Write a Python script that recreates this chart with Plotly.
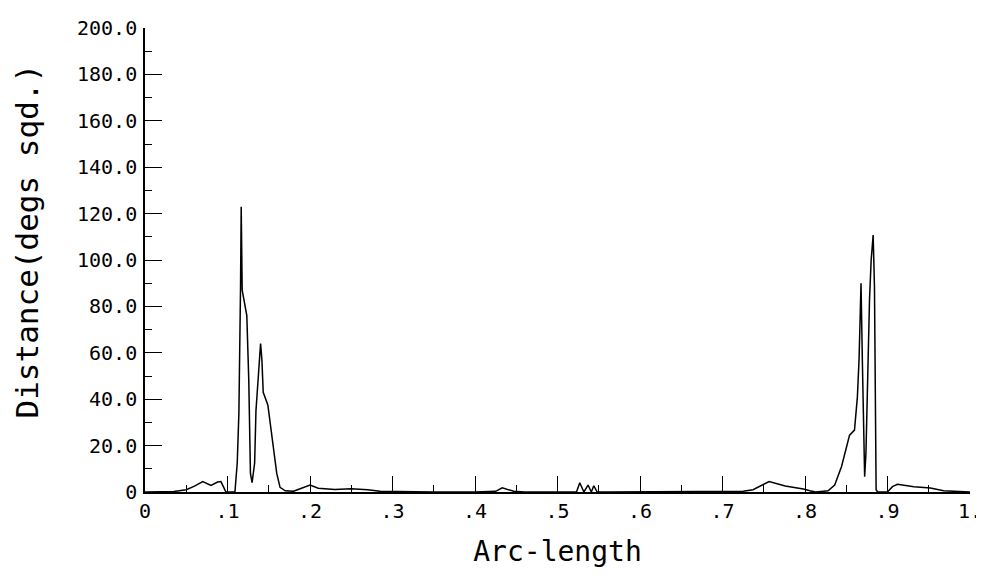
import plotly.graph_objects as go

# Arc-length positions and the squared-degree distance
arc_length = [
    0.0, 0.02, 0.035, 0.05, 0.06, 0.07, 0.08, 0.088, 0.092, 0.095,
    0.098, 0.102, 0.106, 0.109, 0.1118, 0.1138, 0.1158, 0.1166, 0.1178, 0.1206,
    0.1234, 0.1258, 0.1278, 0.1298, 0.1329, 0.1345, 0.1377, 0.1401, 0.1417, 0.1433,
    0.1489, 0.1537, 0.1597, 0.1637, 0.17, 0.18, 0.1916, 0.2, 0.21, 0.23,
    0.25, 0.27, 0.285, 0.30, 0.35, 0.40, 0.425, 0.433, 0.44, 0.447,
    0.46, 0.50, 0.523, 0.527, 0.532, 0.537, 0.541, 0.544, 0.548, 0.56,
    0.60, 0.65, 0.70, 0.725, 0.737, 0.7565, 0.776, 0.798, 0.806, 0.813,
    0.828, 0.836, 0.8443, 0.850, 0.854, 0.860, 0.8635, 0.8655, 0.8667, 0.8679,
    0.8695, 0.871, 0.8723, 0.8739, 0.8763, 0.8782, 0.8802, 0.8826, 0.8842, 0.8854,
    0.8862, 0.888, 0.90, 0.906, 0.912, 0.932, 0.952, 0.968, 0.99, 1.0,
]
distance = [
    0, 0, 0.2, 1.0, 2.5, 4.5, 2.8, 4.3, 4.5, 2.3,
    0, 0, 0, 0, 12.5, 34, 88.5, 123, 87, 82,
    76, 48, 8, 4, 12.5, 35, 51, 64, 57, 43,
    37.5, 25, 8, 2, 0.5, 0.3, 1.7, 3, 1.6, 1.1,
    1.4, 1.0, 0.3, 0.2, 0, 0, 0.3, 1.8, 1.0, 0.3,
    0, 0, 0, 4, 0, 3, 0, 2.7, 0, 0,
    0, 0, 0, 0.3, 1.0, 4.5, 2.6, 1.3, 0.5, 0,
    0.5, 3, 11, 19.5, 24.5, 26.7, 41, 57, 77, 90,
    57, 18, 6.6, 17, 57, 83, 100, 110.8, 88.5, 45,
    1, 0, 0, 2.3, 3.3, 2.3, 1.7, 0.5, 0, 0,
]

x_tickvals = [0, 0.1, 0.2, 0.3, 0.4, 0.5, 0.6, 0.7, 0.8, 0.9, 1.0]
x_ticktext = ["0", ".1", ".2", ".3", ".4", ".5", ".6", ".7", ".8", ".9", "1."]
y_tickvals = [0, 20, 40, 60, 80, 100, 120, 140, 160, 180, 200]
y_ticktext = ["0", "20.0", "40.0", "60.0", "80.0", "100.0", "120.0",
              "140.0", "160.0", "180.0", "200.0"]

MONO = "DejaVu Sans Mono"

fig = go.Figure(
    go.Scatter(
        x=arc_length,
        y=distance,
        mode="lines",
        line={"color": "black", "width": 1.5},
        hovertemplate="Arc-length: %{x:.3f}<br>Distance: %{y:.1f}<extra></extra>",
    )
)

# the page body keeps its 8px margin, so the figure is sized to fit inside it
fig.update_layout(
    width=976,
    height=572,
    margin={"l": 137, "r": 14, "t": 20, "b": 88},
    paper_bgcolor="white",
    plot_bgcolor="white",
    showlegend=False,
    font={"family": MONO, "color": "black", "size": 20},
    xaxis={
        "range": [0, 1],
        "tickvals": x_tickvals,
        "ticktext": x_ticktext,
        "ticks": "inside",
        "ticklen": 16,
        "tickwidth": 1.4,
        "tickcolor": "black",
        "minor": {"ticks": "inside", "ticklen": 7, "dtick": 0.05,
                  "tickcolor": "black", "tickwidth": 1.2, "showgrid": False},
        "showline": True,
        "linecolor": "black",
        "linewidth": 1.6,
        "showgrid": False,
        "zeroline": False,
        "tickfont": {"size": 20},
        "ticklabeloverflow": "allow",
        "title": {"text": "Arc-length", "font": {"size": 28}, "standoff": 20},
        "automargin": False,
    },
    yaxis={
        "range": [0, 200],
        "tickvals": y_tickvals,
        "ticktext": y_ticktext,
        "ticks": "inside",
        "ticklen": 17,
        "tickwidth": 1.4,
        "tickcolor": "black",
        "minor": {"ticks": "inside", "ticklen": 7, "dtick": 10,
                  "tickcolor": "black", "tickwidth": 1.2, "showgrid": False},
        "showline": True,
        "linecolor": "black",
        "linewidth": 1.6,
        "showgrid": False,
        "zeroline": False,
        "tickfont": {"size": 20},
        "ticklabelstandoff": 2,
        "automargin": False,
    },
    annotations=[
        {
            "text": "Distance(degs sqd.)",
            "xref": "paper",
            "yref": "paper",
            "x": -0.143,
            "y": 0.54,
            "xanchor": "center",
            "yanchor": "middle",
            "textangle": -90,
            "showarrow": False,
            "font": {"size": 31},
        }
    ],
)

fig.write_html("out.html")
